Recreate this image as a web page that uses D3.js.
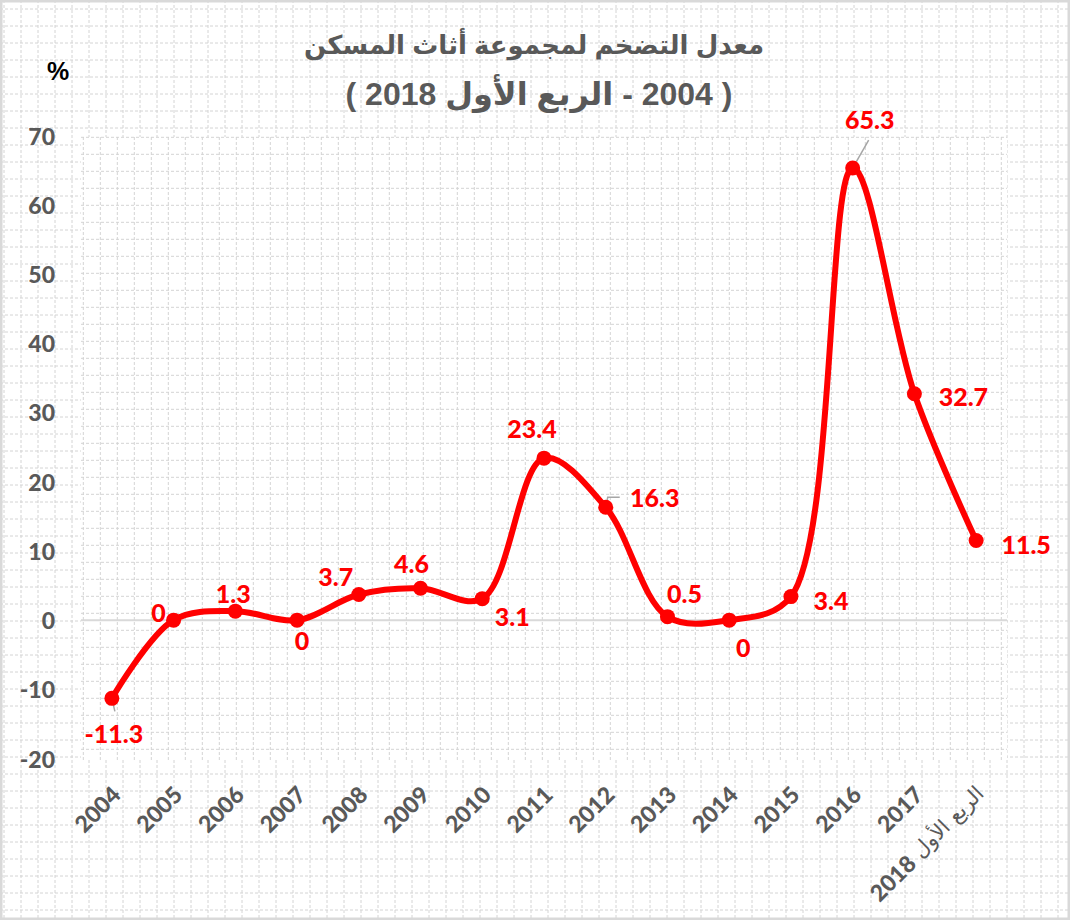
<!DOCTYPE html>
<html><head><meta charset="utf-8">
<script src="https://cdn.jsdelivr.net/npm/d3@7"></script>
<style>body{margin:0;background:#fff}svg{display:block}</style>
</head><body>
<svg id="c" width="1070" height="920"></svg>
<script>
const categories = ["2004","2005","2006","2007","2008","2009","2010","2011","2012","2013","2014","2015","2016","2017","Q1-2018"];
const values = [-11.3,0,1.3,0,3.7,4.6,3.1,23.4,16.3,0.5,0,3.4,65.3,32.7,11.5];
const yTicks = [-20,-10,0,10,20,30,40,50,60,70];
const titleLines = ["معدل التضخم لمجموعة أثاث المسكن","( 2004 - الربع الأول 2018 )"];
const lastLabelYear = "2018";
const lastLabelText = " الربع الأول";
// label offsets (dx, dy) relative to each point
const labelOffsets = [[2,35],[-15,-8],[-2,-18],[5,20],[-23,-19],[-9,-25],[30,17],[-12,-30],[49,-10],[17,-24],[14,27],[40,3],[17,-49],[49,2],[50,3]];

const svg = d3.select("#c");
const W = 1070, H = 920;
const plot = {l:81, t:137, r:1007, b:760};

// page background dashed grid
const bg = svg.append("g");
const dash = "3,2", gcol = "#d4d4d4";
d3.range(4, W, 17).forEach(x => bg.append("line").attr("x1",x).attr("x2",x).attr("y1",0).attr("y2",H)
  .attr("stroke",gcol).attr("stroke-dasharray",dash).attr("stroke-width",1));
d3.range(9, H, 17).forEach(y => bg.append("line").attr("y1",y).attr("y2",y).attr("x1",0).attr("x2",W)
  .attr("stroke",gcol).attr("stroke-dasharray",dash).attr("stroke-width",1));
svg.append("rect").attr("x",1).attr("y",1).attr("width",W-2).attr("height",H-2)
  .attr("fill","none").attr("stroke","#d9d9d9").attr("stroke-width",3);

// plot area
const pa = svg.append("g");
pa.append("rect").attr("x",plot.l).attr("y",plot.t).attr("width",plot.r-plot.l).attr("height",plot.b-plot.t).attr("fill","#fff");
d3.range(plot.l+2.3, plot.r, 17).forEach(x => pa.append("line").attr("x1",x).attr("x2",x).attr("y1",plot.t).attr("y2",plot.b)
  .attr("stroke",gcol).attr("stroke-dasharray",dash));
d3.range(plot.t+0.3, plot.b, 17).forEach(y => pa.append("line").attr("y1",y).attr("y2",y).attr("x1",plot.l).attr("x2",plot.r)
  .attr("stroke",gcol).attr("stroke-dasharray",dash));

const x = d3.scalePoint().domain(categories).range([plot.l, plot.r]).padding(0.5);
const y = d3.scaleLinear().domain([-20,70]).range([758.6, 135.5]);

// zero line
svg.append("line").attr("x1",plot.l).attr("x2",plot.r).attr("y1",y(0)).attr("y2",y(0))
  .attr("stroke","#d9d9d9").attr("stroke-width",2);

// y axis labels
svg.append("g").selectAll("text").data(yTicks).join("text")
  .attr("x",55).attr("y",d=>y(d)).attr("text-anchor","end").attr("dominant-baseline","central")
  .attr("font-family","Lato, 'Open Sans', sans-serif").attr("font-weight","900").attr("font-size",23)
  .attr("fill","#595959").text(d=>d);

// x axis labels
const xl = svg.append("g");
categories.forEach((c,i) => {
  const t = xl.append("text").attr("transform",`translate(${x(c)+4},790) rotate(-45)`)
    .attr("text-anchor","end").attr("dominant-baseline","central")
    .attr("font-family","Lato, 'Open Sans', sans-serif").attr("font-weight","900").attr("font-size",23)
    .attr("fill","#595959");
  if (i === categories.length-1) {
    t.append("tspan").text(lastLabelYear);
    t.append("tspan").attr("font-weight","normal").attr("font-size",21)
      .attr("font-family","'DejaVu Sans', sans-serif").text(lastLabelText);
  } else t.text(c);
});

// title
const tg = svg.append("g").attr("font-family","'Liberation Sans', Arial, 'DejaVu Sans', sans-serif")
  .attr("font-weight","bold").attr("fill","#595959").attr("text-anchor","middle");
tg.append("text").attr("x",534).attr("y",54).attr("direction","rtl").attr("font-size",26).text(titleLines[0]);
tg.append("text").attr("x",539).attr("y",105).attr("direction","rtl").attr("font-size",32).text(titleLines[1]);
svg.append("text").attr("x",58).attr("y",80).attr("text-anchor","middle")
  .attr("font-family","'Liberation Sans', Arial, sans-serif").attr("font-weight","bold").attr("font-size",25)
  .attr("fill","#000").text("%");

// line
const pts = categories.map((c,i)=>[x(c), y(values[i])]);
svg.append("path").attr("d", d3.line().curve(d3.curveCatmullRom.alpha(0.5))(pts))
  .attr("fill","none").attr("stroke","#ff0000").attr("stroke-width",6).attr("stroke-linejoin","round");

// leader lines
const lead = svg.append("g").attr("stroke","#a6a6a6").attr("stroke-width",1.5).attr("fill","none");
const p0 = pts[0], p8 = pts[8], p12 = pts[12];
lead.append("path").attr("d",`M${p0[0]},${p0[1]}L${p0[0]+3},${p0[1]+13}`);
lead.append("path").attr("d",`M${p8[0]},${p8[1]}L${p8[0]+2},${p8[1]-10}L${p8[0]+14},${p8[1]-10}`);
lead.append("path").attr("d",`M${p12[0]},${p12[1]}L${p12[0]+16},${p12[1]-28}`);

// markers
svg.append("g").selectAll("circle").data(pts).join("circle")
  .attr("cx",d=>d[0]).attr("cy",d=>d[1]).attr("r",7.5).attr("fill","#ff0000");

// data labels
svg.append("g").selectAll("text").data(values).join("text")
  .attr("x",(d,i)=>pts[i][0]+labelOffsets[i][0]).attr("y",(d,i)=>pts[i][1]+labelOffsets[i][1])
  .attr("text-anchor","middle").attr("dominant-baseline","central")
  .attr("font-family","Lato, 'Open Sans', sans-serif").attr("font-weight","900").attr("font-size",25)
  .attr("fill","#ff0000").text(d=>d);
</script>
</body></html>
